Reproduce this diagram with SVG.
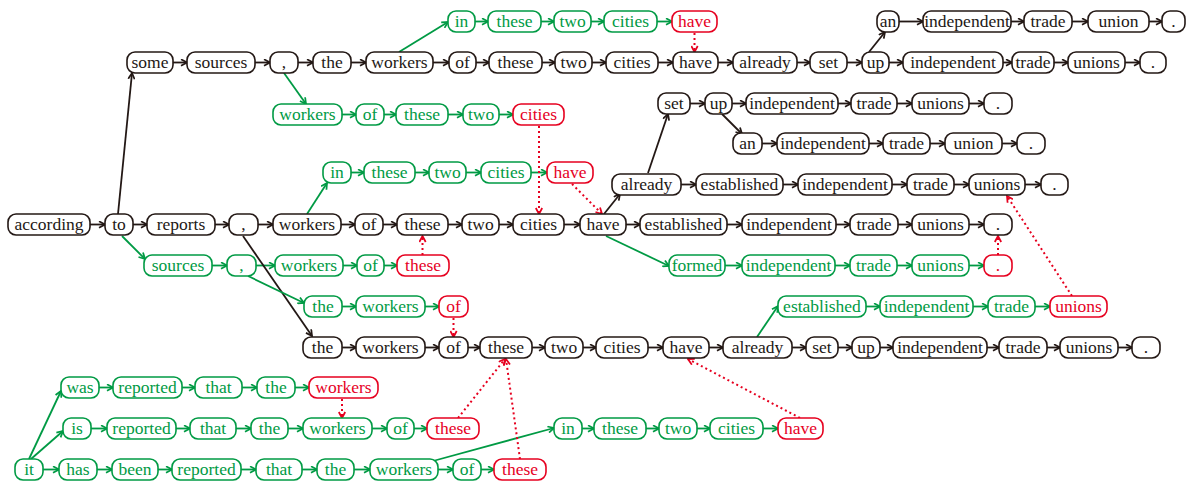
<svg xmlns="http://www.w3.org/2000/svg" width="1195" height="481" viewBox="0 0 1195 481">
<defs>
<style>
rect{fill:#fff;stroke-width:1.6}
.k rect{stroke:#231815}.k text{fill:#231815}
.g rect{stroke:#009a44}.g text{fill:#009a44}
.r rect{stroke:#e6001f}.r text{fill:#e6001f}
.ck{stroke:#231815;stroke-width:1.8;fill:none;marker-end:url(#ak)}
.cg{stroke:#009a44;stroke-width:1.8;fill:none;marker-end:url(#ag)}
.cr{stroke:#e6001f;stroke-width:2;stroke-dasharray:2 3;fill:none;marker-end:url(#ar)}
</style>
<marker id="ak" viewBox="0 0 10 10" refX="8.5" refY="5" markerWidth="8" markerHeight="8" markerUnits="userSpaceOnUse" orient="auto"><path d="M1,1 L8.5,5 L1,9" fill="none" stroke="#231815" stroke-width="2.2"/></marker>
<marker id="ag" viewBox="0 0 10 10" refX="8.5" refY="5" markerWidth="8" markerHeight="8" markerUnits="userSpaceOnUse" orient="auto"><path d="M1,1 L8.5,5 L1,9" fill="none" stroke="#009a44" stroke-width="2.2"/></marker>
<marker id="ar" viewBox="0 0 10 10" refX="8.5" refY="5" markerWidth="8" markerHeight="8" markerUnits="userSpaceOnUse" orient="auto"><path d="M1,1 L8.5,5 L1,9" fill="none" stroke="#e6001f" stroke-width="2.2"/></marker>
</defs>
<rect x="0" y="0" width="1195" height="481" style="fill:#fff;stroke:none"/>
<g id="connectors">
<line class="cg" x1="475" y1="21.5" x2="488" y2="21.5"/><line class="cg" x1="541" y1="21.5" x2="554" y2="21.5"/><line class="cg" x1="591" y1="21.5" x2="604" y2="21.5"/><line class="cg" x1="657" y1="21.5" x2="672" y2="21.5"/>
<line class="ck" x1="899" y1="21.5" x2="923" y2="21.5"/><line class="ck" x1="1011" y1="21.5" x2="1024" y2="21.5"/><line class="ck" x1="1072" y1="21.5" x2="1088" y2="21.5"/><line class="ck" x1="1149" y1="21.5" x2="1162" y2="21.5"/>
<line class="ck" x1="173" y1="62.5" x2="187" y2="62.5"/><line class="ck" x1="255" y1="62.5" x2="270" y2="62.5"/><line class="ck" x1="298" y1="62.5" x2="313" y2="62.5"/><line class="ck" x1="351" y1="62.5" x2="366" y2="62.5"/><line class="ck" x1="433" y1="62.5" x2="449" y2="62.5"/><line class="ck" x1="476" y1="62.5" x2="489" y2="62.5"/><line class="ck" x1="542" y1="62.5" x2="555" y2="62.5"/><line class="ck" x1="592" y1="62.5" x2="606" y2="62.5"/><line class="ck" x1="658" y1="62.5" x2="673" y2="62.5"/><line class="ck" x1="718" y1="62.5" x2="733" y2="62.5"/><line class="ck" x1="797" y1="62.5" x2="810" y2="62.5"/><line class="ck" x1="847" y1="62.5" x2="862" y2="62.5"/><line class="ck" x1="889" y1="62.5" x2="903" y2="62.5"/><line class="ck" x1="1003" y1="62.5" x2="1012" y2="62.5"/><line class="ck" x1="1054" y1="62.5" x2="1068" y2="62.5"/><line class="ck" x1="1125" y1="62.5" x2="1140" y2="62.5"/>
<line class="ck" x1="690" y1="103.5" x2="705" y2="103.5"/><line class="ck" x1="732" y1="103.5" x2="746" y2="103.5"/><line class="ck" x1="838" y1="103.5" x2="851" y2="103.5"/><line class="ck" x1="897" y1="103.5" x2="912" y2="103.5"/><line class="ck" x1="969" y1="103.5" x2="984" y2="103.5"/>
<line class="cg" x1="342" y1="114.5" x2="356" y2="114.5"/><line class="cg" x1="384" y1="114.5" x2="396" y2="114.5"/><line class="cg" x1="448" y1="114.5" x2="463" y2="114.5"/><line class="cg" x1="499" y1="114.5" x2="513" y2="114.5"/>
<line class="ck" x1="762" y1="143.5" x2="777" y2="143.5"/><line class="ck" x1="869" y1="143.5" x2="883" y2="143.5"/><line class="ck" x1="930" y1="143.5" x2="945" y2="143.5"/><line class="ck" x1="1002" y1="143.5" x2="1017" y2="143.5"/>
<line class="cg" x1="351" y1="172.5" x2="364" y2="172.5"/><line class="cg" x1="415" y1="172.5" x2="429" y2="172.5"/><line class="cg" x1="466" y1="172.5" x2="481" y2="172.5"/><line class="cg" x1="531" y1="172.5" x2="547" y2="172.5"/>
<line class="ck" x1="681" y1="184.5" x2="696" y2="184.5"/><line class="ck" x1="783" y1="184.5" x2="798" y2="184.5"/><line class="ck" x1="892" y1="184.5" x2="907" y2="184.5"/><line class="ck" x1="954" y1="184.5" x2="969" y2="184.5"/><line class="ck" x1="1025" y1="184.5" x2="1041" y2="184.5"/>
<line class="ck" x1="90" y1="224.5" x2="105" y2="224.5"/><line class="ck" x1="133" y1="224.5" x2="147" y2="224.5"/><line class="ck" x1="215" y1="224.5" x2="229" y2="224.5"/><line class="ck" x1="258" y1="224.5" x2="273" y2="224.5"/><line class="ck" x1="341" y1="224.5" x2="355" y2="224.5"/><line class="ck" x1="383" y1="224.5" x2="397" y2="224.5"/><line class="ck" x1="448" y1="224.5" x2="462" y2="224.5"/><line class="ck" x1="499" y1="224.5" x2="513" y2="224.5"/><line class="ck" x1="564" y1="224.5" x2="580" y2="224.5"/><line class="ck" x1="626" y1="224.5" x2="640" y2="224.5"/><line class="ck" x1="727" y1="224.5" x2="742" y2="224.5"/><line class="ck" x1="836" y1="224.5" x2="850" y2="224.5"/><line class="ck" x1="898" y1="224.5" x2="912" y2="224.5"/><line class="ck" x1="969" y1="224.5" x2="984" y2="224.5"/>
<line class="cg" x1="212" y1="265.5" x2="227" y2="265.5"/><line class="cg" x1="256" y1="265.5" x2="275" y2="265.5"/><line class="cg" x1="343" y1="265.5" x2="357" y2="265.5"/><line class="cg" x1="384" y1="265.5" x2="397" y2="265.5"/><line class="cg" x1="725" y1="265.5" x2="742" y2="265.5"/><line class="cg" x1="835" y1="265.5" x2="850" y2="265.5"/><line class="cg" x1="897" y1="265.5" x2="912" y2="265.5"/><line class="cg" x1="969" y1="265.5" x2="984" y2="265.5"/>
<line class="cg" x1="342" y1="306.5" x2="356" y2="306.5"/><line class="cg" x1="425" y1="306.5" x2="439" y2="306.5"/><line class="cg" x1="866" y1="306.5" x2="880" y2="306.5"/><line class="cg" x1="973" y1="306.5" x2="988" y2="306.5"/><line class="cg" x1="1035" y1="306.5" x2="1050" y2="306.5"/>
<line class="ck" x1="342" y1="347.5" x2="356" y2="347.5"/><line class="ck" x1="425" y1="347.5" x2="439" y2="347.5"/><line class="ck" x1="468" y1="347.5" x2="480" y2="347.5"/><line class="ck" x1="532" y1="347.5" x2="545" y2="347.5"/><line class="ck" x1="583" y1="347.5" x2="596" y2="347.5"/><line class="ck" x1="648" y1="347.5" x2="663" y2="347.5"/><line class="ck" x1="709" y1="347.5" x2="723" y2="347.5"/><line class="ck" x1="792" y1="347.5" x2="806" y2="347.5"/><line class="ck" x1="838" y1="347.5" x2="852" y2="347.5"/><line class="ck" x1="880" y1="347.5" x2="893" y2="347.5"/><line class="ck" x1="987" y1="347.5" x2="999" y2="347.5"/><line class="ck" x1="1047" y1="347.5" x2="1060" y2="347.5"/><line class="ck" x1="1118" y1="347.5" x2="1132" y2="347.5"/>
<line class="cg" x1="99" y1="387.5" x2="113" y2="387.5"/><line class="cg" x1="182" y1="387.5" x2="195" y2="387.5"/><line class="cg" x1="242" y1="387.5" x2="257" y2="387.5"/><line class="cg" x1="295" y1="387.5" x2="309" y2="387.5"/>
<line class="cg" x1="91" y1="428.5" x2="107" y2="428.5"/><line class="cg" x1="176" y1="428.5" x2="190" y2="428.5"/><line class="cg" x1="236" y1="428.5" x2="251" y2="428.5"/><line class="cg" x1="288" y1="428.5" x2="303" y2="428.5"/><line class="cg" x1="372" y1="428.5" x2="387" y2="428.5"/><line class="cg" x1="414" y1="428.5" x2="427" y2="428.5"/><line class="cg" x1="582" y1="428.5" x2="594" y2="428.5"/><line class="cg" x1="646" y1="428.5" x2="659" y2="428.5"/><line class="cg" x1="697" y1="428.5" x2="710" y2="428.5"/><line class="cg" x1="763" y1="428.5" x2="778" y2="428.5"/>
<line class="cg" x1="43" y1="469.5" x2="59" y2="469.5"/><line class="cg" x1="97" y1="469.5" x2="112" y2="469.5"/><line class="cg" x1="158" y1="469.5" x2="172" y2="469.5"/><line class="cg" x1="241" y1="469.5" x2="256" y2="469.5"/><line class="cg" x1="302" y1="469.5" x2="317" y2="469.5"/><line class="cg" x1="354" y1="469.5" x2="370" y2="469.5"/><line class="cg" x1="438" y1="469.5" x2="453" y2="469.5"/><line class="cg" x1="481" y1="469.5" x2="494" y2="469.5"/>
<line class="ck" x1="118" y1="214" x2="132" y2="73"/>
<line class="cg" x1="122" y1="236" x2="145" y2="259"/>
<line class="ck" x1="243" y1="236" x2="312" y2="336"/>
<line class="cg" x1="248" y1="276" x2="304" y2="303"/>
<line class="cg" x1="399" y1="52" x2="448" y2="22"/>
<line class="cg" x1="284" y1="73" x2="306" y2="104"/>
<line class="ck" x1="869" y1="52" x2="885" y2="32"/>
<line class="cg" x1="307" y1="214" x2="327" y2="183"/>
<line class="ck" x1="604" y1="214" x2="620" y2="194"/>
<line class="ck" x1="648" y1="173" x2="668" y2="114"/>
<line class="ck" x1="722" y1="114" x2="742" y2="134"/>
<line class="cg" x1="606" y1="236" x2="669" y2="266"/>
<line class="cg" x1="757" y1="337" x2="778" y2="306"/>
<line class="cg" x1="29" y1="459" x2="61" y2="391"/>
<line class="cg" x1="31" y1="459" x2="63" y2="431"/>
<line class="cg" x1="433" y1="461" x2="554" y2="428"/>
<line class="cr" x1="694.5" y1="33" x2="694.5" y2="52"/>
<line class="cr" x1="539" y1="126" x2="539" y2="214"/>
<line class="cr" x1="572" y1="184" x2="602" y2="214"/>
<line class="cr" x1="422.5" y1="255" x2="422.5" y2="236"/>
<line class="cr" x1="998" y1="255" x2="998" y2="236"/>
<line class="cr" x1="1072" y1="296" x2="1007" y2="196"/>
<line class="cr" x1="453.5" y1="318" x2="453.5" y2="337"/>
<line class="cr" x1="342" y1="399" x2="342" y2="418"/>
<line class="cr" x1="458" y1="418" x2="505" y2="359"/>
<line class="cr" x1="520" y1="459" x2="506" y2="359"/>
<line class="cr" x1="800" y1="418" x2="688" y2="359"/>
</g>
<g id="nodes" font-family="Liberation Serif" font-size="17.5" text-anchor="middle">
<g id="A1" class="g"><rect x="448" y="11" width="27" height="21" rx="8"/><text x="461.5" y="27">in</text></g>
<g id="A2" class="g"><rect x="488" y="11" width="53" height="21" rx="8"/><text x="514.5" y="27">these</text></g>
<g id="A3" class="g"><rect x="554" y="11" width="37" height="21" rx="8"/><text x="572.5" y="27">two</text></g>
<g id="A4" class="g"><rect x="604" y="11" width="53" height="21" rx="8"/><text x="630.5" y="27">cities</text></g>
<g id="A5" class="r"><rect x="672" y="11" width="45" height="21" rx="8"/><text x="694.5" y="27">have</text></g>
<g id="A6" class="k"><rect x="877" y="11" width="22" height="21" rx="8"/><text x="888" y="27">an</text></g>
<g id="A7" class="k"><rect x="923" y="11" width="88" height="21" rx="8"/><text x="967" y="27">independent</text></g>
<g id="A8" class="k"><rect x="1024" y="11" width="48" height="21" rx="8"/><text x="1048" y="27">trade</text></g>
<g id="A9" class="k"><rect x="1088" y="11" width="61" height="21" rx="8"/><text x="1118.5" y="27">union</text></g>
<g id="A10" class="k"><rect x="1162" y="11" width="23" height="21" rx="8"/><text x="1173.5" y="27">.</text></g>
<g id="B1" class="k"><rect x="127" y="52" width="46" height="21" rx="8"/><text x="150" y="68">some</text></g>
<g id="B2" class="k"><rect x="187" y="52" width="68" height="21" rx="8"/><text x="221" y="68">sources</text></g>
<g id="B3" class="k"><rect x="270" y="52" width="28" height="21" rx="8"/><text x="284" y="68">,</text></g>
<g id="B4" class="k"><rect x="313" y="52" width="38" height="21" rx="8"/><text x="332" y="68">the</text></g>
<g id="B5" class="k"><rect x="366" y="52" width="67" height="21" rx="8"/><text x="399.5" y="68">workers</text></g>
<g id="B6" class="k"><rect x="449" y="52" width="27" height="21" rx="8"/><text x="462.5" y="68">of</text></g>
<g id="B7" class="k"><rect x="489" y="52" width="53" height="21" rx="8"/><text x="515.5" y="68">these</text></g>
<g id="B8" class="k"><rect x="555" y="52" width="37" height="21" rx="8"/><text x="573.5" y="68">two</text></g>
<g id="B9" class="k"><rect x="606" y="52" width="52" height="21" rx="8"/><text x="632" y="68">cities</text></g>
<g id="B10" class="k"><rect x="673" y="52" width="45" height="21" rx="8"/><text x="695.5" y="68">have</text></g>
<g id="B11" class="k"><rect x="733" y="52" width="64" height="21" rx="8"/><text x="765" y="68">already</text></g>
<g id="B12" class="k"><rect x="810" y="52" width="37" height="21" rx="8"/><text x="828.5" y="68">set</text></g>
<g id="B13" class="k"><rect x="862" y="52" width="27" height="21" rx="8"/><text x="875.5" y="68">up</text></g>
<g id="B14" class="k"><rect x="903" y="52" width="100" height="21" rx="8"/><text x="953" y="68">independent</text></g>
<g id="B15" class="k"><rect x="1012" y="52" width="42" height="21" rx="8"/><text x="1033" y="68">trade</text></g>
<g id="B16" class="k"><rect x="1068" y="52" width="57" height="21" rx="8"/><text x="1096.5" y="68">unions</text></g>
<g id="B17" class="k"><rect x="1140" y="52" width="26" height="21" rx="8"/><text x="1153" y="68">.</text></g>
<g id="C1" class="k"><rect x="658" y="93" width="32" height="21" rx="8"/><text x="674" y="109">set</text></g>
<g id="C2" class="k"><rect x="705" y="93" width="27" height="21" rx="8"/><text x="718.5" y="109">up</text></g>
<g id="C3" class="k"><rect x="746" y="93" width="92" height="21" rx="8"/><text x="792" y="109">independent</text></g>
<g id="C4" class="k"><rect x="851" y="93" width="46" height="21" rx="8"/><text x="874" y="109">trade</text></g>
<g id="C5" class="k"><rect x="912" y="93" width="57" height="21" rx="8"/><text x="940.5" y="109">unions</text></g>
<g id="C6" class="k"><rect x="984" y="93" width="28" height="21" rx="8"/><text x="998" y="109">.</text></g>
<g id="D1" class="g"><rect x="273" y="104" width="69" height="21" rx="8"/><text x="307.5" y="120">workers</text></g>
<g id="D2" class="g"><rect x="356" y="104" width="28" height="21" rx="8"/><text x="370" y="120">of</text></g>
<g id="D3" class="g"><rect x="396" y="104" width="52" height="21" rx="8"/><text x="422" y="120">these</text></g>
<g id="D4" class="g"><rect x="463" y="104" width="36" height="21" rx="8"/><text x="481" y="120">two</text></g>
<g id="D5" class="r"><rect x="513" y="104" width="51" height="21" rx="8"/><text x="538.5" y="120">cities</text></g>
<g id="E1" class="k"><rect x="733" y="133" width="29" height="21" rx="8"/><text x="747.5" y="149">an</text></g>
<g id="E2" class="k"><rect x="777" y="133" width="92" height="21" rx="8"/><text x="823" y="149">independent</text></g>
<g id="E3" class="k"><rect x="883" y="133" width="47" height="21" rx="8"/><text x="906.5" y="149">trade</text></g>
<g id="E4" class="k"><rect x="945" y="133" width="57" height="21" rx="8"/><text x="973.5" y="149">union</text></g>
<g id="E5" class="k"><rect x="1017" y="133" width="28" height="21" rx="8"/><text x="1031" y="149">.</text></g>
<g id="F1" class="g"><rect x="323" y="162" width="28" height="21" rx="8"/><text x="337" y="178">in</text></g>
<g id="F2" class="g"><rect x="364" y="162" width="51" height="21" rx="8"/><text x="389.5" y="178">these</text></g>
<g id="F3" class="g"><rect x="429" y="162" width="37" height="21" rx="8"/><text x="447.5" y="178">two</text></g>
<g id="F4" class="g"><rect x="481" y="162" width="50" height="21" rx="8"/><text x="506" y="178">cities</text></g>
<g id="F5" class="r"><rect x="547" y="162" width="46" height="21" rx="8"/><text x="570" y="178">have</text></g>
<g id="G1" class="k"><rect x="612" y="174" width="69" height="21" rx="8"/><text x="646.5" y="190">already</text></g>
<g id="G2" class="k"><rect x="696" y="174" width="87" height="21" rx="8"/><text x="739.5" y="190">established</text></g>
<g id="G3" class="k"><rect x="798" y="174" width="94" height="21" rx="8"/><text x="845" y="190">independent</text></g>
<g id="G4" class="k"><rect x="907" y="174" width="47" height="21" rx="8"/><text x="930.5" y="190">trade</text></g>
<g id="G5" class="k"><rect x="969" y="174" width="56" height="21" rx="8"/><text x="997" y="190">unions</text></g>
<g id="G6" class="k"><rect x="1041" y="174" width="27" height="21" rx="8"/><text x="1054.5" y="190">.</text></g>
<g id="H1" class="k"><rect x="8" y="214" width="82" height="21" rx="8"/><text x="49" y="230">according</text></g>
<g id="H2" class="k"><rect x="105" y="214" width="28" height="21" rx="8"/><text x="119" y="230">to</text></g>
<g id="H3" class="k"><rect x="147" y="214" width="68" height="21" rx="8"/><text x="181" y="230">reports</text></g>
<g id="H4" class="k"><rect x="229" y="214" width="29" height="21" rx="8"/><text x="243.5" y="230">,</text></g>
<g id="H5" class="k"><rect x="273" y="214" width="68" height="21" rx="8"/><text x="307" y="230">workers</text></g>
<g id="H6" class="k"><rect x="355" y="214" width="28" height="21" rx="8"/><text x="369" y="230">of</text></g>
<g id="H7" class="k"><rect x="397" y="214" width="51" height="21" rx="8"/><text x="422.5" y="230">these</text></g>
<g id="H8" class="k"><rect x="462" y="214" width="37" height="21" rx="8"/><text x="480.5" y="230">two</text></g>
<g id="H9" class="k"><rect x="513" y="214" width="51" height="21" rx="8"/><text x="538.5" y="230">cities</text></g>
<g id="H10" class="k"><rect x="580" y="214" width="46" height="21" rx="8"/><text x="603" y="230">have</text></g>
<g id="H11" class="k"><rect x="640" y="214" width="87" height="21" rx="8"/><text x="683.5" y="230">established</text></g>
<g id="H12" class="k"><rect x="742" y="214" width="94" height="21" rx="8"/><text x="789" y="230">independent</text></g>
<g id="H13" class="k"><rect x="850" y="214" width="48" height="21" rx="8"/><text x="874" y="230">trade</text></g>
<g id="H14" class="k"><rect x="912" y="214" width="57" height="21" rx="8"/><text x="940.5" y="230">unions</text></g>
<g id="H15" class="k"><rect x="984" y="214" width="28" height="21" rx="8"/><text x="998" y="230">.</text></g>
<g id="I1" class="g"><rect x="144" y="255" width="68" height="21" rx="8"/><text x="178" y="271">sources</text></g>
<g id="I2" class="g"><rect x="227" y="255" width="29" height="21" rx="8"/><text x="241.5" y="271">,</text></g>
<g id="I3" class="g"><rect x="275" y="255" width="68" height="21" rx="8"/><text x="309" y="271">workers</text></g>
<g id="I4" class="g"><rect x="357" y="255" width="27" height="21" rx="8"/><text x="370.5" y="271">of</text></g>
<g id="I5" class="r"><rect x="397" y="255" width="52" height="21" rx="8"/><text x="423" y="271">these</text></g>
<g id="I6" class="g"><rect x="669" y="255" width="56" height="21" rx="8"/><text x="697" y="271">formed</text></g>
<g id="I7" class="g"><rect x="742" y="255" width="93" height="21" rx="8"/><text x="788.5" y="271">independent</text></g>
<g id="I8" class="g"><rect x="850" y="255" width="47" height="21" rx="8"/><text x="873.5" y="271">trade</text></g>
<g id="I9" class="g"><rect x="912" y="255" width="57" height="21" rx="8"/><text x="940.5" y="271">unions</text></g>
<g id="I10" class="r"><rect x="984" y="255" width="28" height="21" rx="8"/><text x="998" y="271">.</text></g>
<g id="J1" class="g"><rect x="304" y="296" width="38" height="21" rx="8"/><text x="323" y="312">the</text></g>
<g id="J2" class="g"><rect x="356" y="296" width="69" height="21" rx="8"/><text x="390.5" y="312">workers</text></g>
<g id="J3" class="r"><rect x="439" y="296" width="29" height="21" rx="8"/><text x="453.5" y="312">of</text></g>
<g id="J4" class="g"><rect x="778" y="296" width="88" height="21" rx="8"/><text x="822" y="312">established</text></g>
<g id="J5" class="g"><rect x="880" y="296" width="93" height="21" rx="8"/><text x="926.5" y="312">independent</text></g>
<g id="J6" class="g"><rect x="988" y="296" width="47" height="21" rx="8"/><text x="1011.5" y="312">trade</text></g>
<g id="J7" class="r"><rect x="1050" y="296" width="57" height="21" rx="8"/><text x="1078.5" y="312">unions</text></g>
<g id="K1" class="k"><rect x="303" y="337" width="39" height="21" rx="8"/><text x="322.5" y="353">the</text></g>
<g id="K2" class="k"><rect x="356" y="337" width="69" height="21" rx="8"/><text x="390.5" y="353">workers</text></g>
<g id="K3" class="k"><rect x="439" y="337" width="29" height="21" rx="8"/><text x="453.5" y="353">of</text></g>
<g id="K4" class="k"><rect x="480" y="337" width="52" height="21" rx="8"/><text x="506" y="353">these</text></g>
<g id="K5" class="k"><rect x="545" y="337" width="38" height="21" rx="8"/><text x="564" y="353">two</text></g>
<g id="K6" class="k"><rect x="596" y="337" width="52" height="21" rx="8"/><text x="622" y="353">cities</text></g>
<g id="K7" class="k"><rect x="663" y="337" width="46" height="21" rx="8"/><text x="686" y="353">have</text></g>
<g id="K8" class="k"><rect x="723" y="337" width="69" height="21" rx="8"/><text x="757.5" y="353">already</text></g>
<g id="K9" class="k"><rect x="806" y="337" width="32" height="21" rx="8"/><text x="822" y="353">set</text></g>
<g id="K10" class="k"><rect x="852" y="337" width="28" height="21" rx="8"/><text x="866" y="353">up</text></g>
<g id="K11" class="k"><rect x="893" y="337" width="94" height="21" rx="8"/><text x="940" y="353">independent</text></g>
<g id="K12" class="k"><rect x="999" y="337" width="48" height="21" rx="8"/><text x="1023" y="353">trade</text></g>
<g id="K13" class="k"><rect x="1060" y="337" width="58" height="21" rx="8"/><text x="1089" y="353">unions</text></g>
<g id="K14" class="k"><rect x="1132" y="337" width="28" height="21" rx="8"/><text x="1146" y="353">.</text></g>
<g id="L1" class="g"><rect x="61" y="377" width="38" height="21" rx="8"/><text x="80" y="393">was</text></g>
<g id="L2" class="g"><rect x="113" y="377" width="69" height="21" rx="8"/><text x="147.5" y="393">reported</text></g>
<g id="L3" class="g"><rect x="195" y="377" width="47" height="21" rx="8"/><text x="218.5" y="393">that</text></g>
<g id="L4" class="g"><rect x="257" y="377" width="38" height="21" rx="8"/><text x="276" y="393">the</text></g>
<g id="L5" class="r"><rect x="309" y="377" width="69" height="21" rx="8"/><text x="343.5" y="393">workers</text></g>
<g id="M1" class="g"><rect x="63" y="418" width="28" height="21" rx="8"/><text x="77" y="434">is</text></g>
<g id="M2" class="g"><rect x="107" y="418" width="69" height="21" rx="8"/><text x="141.5" y="434">reported</text></g>
<g id="M3" class="g"><rect x="190" y="418" width="46" height="21" rx="8"/><text x="213" y="434">that</text></g>
<g id="M4" class="g"><rect x="251" y="418" width="37" height="21" rx="8"/><text x="269.5" y="434">the</text></g>
<g id="M5" class="g"><rect x="303" y="418" width="69" height="21" rx="8"/><text x="337.5" y="434">workers</text></g>
<g id="M6" class="g"><rect x="387" y="418" width="27" height="21" rx="8"/><text x="400.5" y="434">of</text></g>
<g id="M7" class="r"><rect x="427" y="418" width="52" height="21" rx="8"/><text x="453" y="434">these</text></g>
<g id="M8" class="g"><rect x="554" y="418" width="28" height="21" rx="8"/><text x="568" y="434">in</text></g>
<g id="M9" class="g"><rect x="594" y="418" width="52" height="21" rx="8"/><text x="620" y="434">these</text></g>
<g id="M10" class="g"><rect x="659" y="418" width="38" height="21" rx="8"/><text x="678" y="434">two</text></g>
<g id="M11" class="g"><rect x="710" y="418" width="53" height="21" rx="8"/><text x="736.5" y="434">cities</text></g>
<g id="M12" class="r"><rect x="778" y="418" width="45" height="21" rx="8"/><text x="800.5" y="434">have</text></g>
<g id="N1" class="g"><rect x="15" y="459" width="28" height="21" rx="8"/><text x="29" y="475">it</text></g>
<g id="N2" class="g"><rect x="59" y="459" width="38" height="21" rx="8"/><text x="78" y="475">has</text></g>
<g id="N3" class="g"><rect x="112" y="459" width="46" height="21" rx="8"/><text x="135" y="475">been</text></g>
<g id="N4" class="g"><rect x="172" y="459" width="69" height="21" rx="8"/><text x="206.5" y="475">reported</text></g>
<g id="N5" class="g"><rect x="256" y="459" width="46" height="21" rx="8"/><text x="279" y="475">that</text></g>
<g id="N6" class="g"><rect x="317" y="459" width="37" height="21" rx="8"/><text x="335.5" y="475">the</text></g>
<g id="N7" class="g"><rect x="370" y="459" width="68" height="21" rx="8"/><text x="404" y="475">workers</text></g>
<g id="N8" class="g"><rect x="453" y="459" width="28" height="21" rx="8"/><text x="467" y="475">of</text></g>
<g id="N9" class="r"><rect x="494" y="459" width="52" height="21" rx="8"/><text x="520" y="475">these</text></g>
</g>
</svg>
